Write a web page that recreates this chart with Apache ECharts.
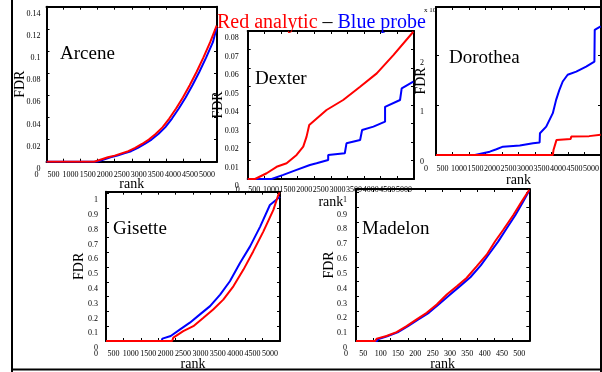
<!DOCTYPE html>
<html>
<head>
<meta charset="utf-8">
<script src="https://cdn.jsdelivr.net/npm/echarts@6/dist/echarts.min.js"></script>
<style>
  html, body { margin: 0; padding: 0; background: #fff; }
  #chart { width: 602px; height: 372px; }
</style>
</head>
<body>
<div id="chart"></div>
<script>
// values, [rank, FDR]
const arceneRed = [[0, 0], [1400, 0], [1600, 0.002], [1800, 0.004], [2000, 0.0055], [2200, 0.0075], [2400, 0.0095], [2600, 0.0125], [2800, 0.016], [3000, 0.02], [3200, 0.025], [3400, 0.031], [3600, 0.039], [3800, 0.048], [4000, 0.058], [4200, 0.069], [4400, 0.081], [4600, 0.094], [4800, 0.108], [4990, 0.123]];
const arceneBlue = [[0, 0], [1480, 0], [1680, 0.002], [1880, 0.004], [2080, 0.0055], [2280, 0.0075], [2480, 0.0095], [2680, 0.0125], [2880, 0.016], [3080, 0.02], [3280, 0.025], [3480, 0.031], [3680, 0.039], [3880, 0.048], [4080, 0.058], [4280, 0.069], [4480, 0.081], [4680, 0.094], [4880, 0.108], [4990, 0.121]];

const dexterRed = [[0, 0], [220, 0], [270, 0.0004], [570, 0.0031], [870, 0.0066], [1170, 0.0085], [1470, 0.013], [1670, 0.0175], [1770, 0.0229], [1850, 0.0292], [2370, 0.0373], [2870, 0.0427], [3380, 0.0499], [3880, 0.0571], [4380, 0.067], [4980, 0.0796]];
const dexterBlue = [[0, 0], [720, 0], [720, 0.0004], [1070, 0.0022], [1470, 0.0049], [1870, 0.0076], [2070, 0.0085], [2420, 0.0103], [2420, 0.013], [2920, 0.0139], [2970, 0.0193], [3380, 0.0211], [3440, 0.0265], [3780, 0.0283], [4130, 0.031], [4130, 0.039], [4580, 0.0427], [4630, 0.049], [4980, 0.0526]];

const dorotheaRed = [[0, 0], [3540, 0], [3560, 0.1], [3620, 0.12], [3650, 0.3], [4080, 0.32], [4100, 0.37], [4640, 0.38], [4660, 0.4], [4990, 0.41]];
const dorotheaBlue = [[0, 0], [1180, 0], [1180, 0.02], [1630, 0.067], [1830, 0.115], [2030, 0.168], [2540, 0.19], [2940, 0.236], [3140, 0.25], [3150, 0.438], [3340, 0.572], [3540, 0.842], [3640, 1.11], [3740, 1.313], [3840, 1.48], [3990, 1.616], [4250, 1.68], [4550, 1.78], [4800, 1.88], [4810, 2.52], [4990, 2.59]];

const gisetteRed = [[0, 0], [1900, 0], [1935, 0.023], [2220, 0.067], [2510, 0.1], [2800, 0.157], [3080, 0.213], [3370, 0.28], [3660, 0.37], [3950, 0.483], [4230, 0.606], [4520, 0.74], [4810, 0.887], [4950, 0.988], [4990, 1.005]];
const gisetteBlue = [[0, 0], [1600, 0], [1620, 0.016], [1860, 0.034], [2130, 0.079], [2410, 0.124], [2700, 0.18], [2990, 0.236], [3280, 0.314], [3560, 0.404], [3850, 0.528], [4140, 0.64], [4430, 0.774], [4710, 0.92], [5000, 0.976]];

const madelonRed = [[0, 0], [55, 0], [60, 0.016], [88, 0.034], [117, 0.06], [146, 0.1], [175, 0.146], [204, 0.19], [233, 0.246], [262, 0.313], [291, 0.369], [319, 0.425], [348, 0.503], [377, 0.582], [401, 0.671], [425, 0.75], [454, 0.85], [478, 0.94], [500, 1.02]];
const madelonBlue = [[0, 0], [60, 0], [65, 0.014], [90, 0.032], [120, 0.058], [150, 0.1], [180, 0.145], [210, 0.19], [240, 0.25], [270, 0.31], [300, 0.37], [330, 0.43], [360, 0.51], [385, 0.59], [410, 0.67], [435, 0.76], [460, 0.85], [480, 0.93], [500, 1.015]];

// tick labels
const rankTicks = [0, 500, 1000, 1500, 2000, 2500, 3000, 3500, 4000, 4500, 5000];
const madelonRankTicks = [0, 50, 100, 150, 200, 250, 300, 350, 400, 450, 500];
const arceneFdrTicks = [0, 0.02, 0.04, 0.06, 0.08, 0.1, 0.12, 0.14];
const dexterFdrTicks = [0, 0.01, 0.02, 0.03, 0.04, 0.05, 0.06, 0.07, 0.08];
const dorotheaFdrTicks = [0, 1, 2];
const unitFdrTicks = [0, 0.1, 0.2, 0.3, 0.4, 0.5, 0.6, 0.7, 0.8, 0.9, 1];

const FONT = 'Liberation Serif';

const panels = [
  { title: 'Arcene', red: arceneRed, blue: arceneBlue, xMax: 5000, yMax: 0.14, xTicks: rankTicks, yTicks: arceneFdrTicks,
    grid: { left: 46.5, top: 6.7, width: 170.5, height: 155 }, yLabelMargin: 6, xLabelMargin: 9, yNameGap: 19, xNameGap: 16, titlePos: [60, 54] },
  { title: 'Dexter', red: dexterRed, blue: dexterBlue, xMax: 5000, yMax: 0.08, xTicks: rankTicks, yTicks: dexterFdrTicks,
    grid: { left: 247.7, top: 31, width: 166.3, height: 148 }, yLabelMargin: 9, xLabelMargin: 7, yNameGap: 22, xNameGap: 16, titlePos: [255, 79] },
  { title: 'Dorothea', red: dorotheaRed, blue: dorotheaBlue, xMax: 5000, yMax: 2.98, xTicks: rankTicks, yTicks: dorotheaFdrTicks,
    grid: { left: 436, top: 7, width: 165.5, height: 148 }, yLabelMargin: 12, xLabelMargin: 10, yNameGap: 8, xNameGap: 18, titlePos: [449, 58] },
  { title: 'Gisette', red: gisetteRed, blue: gisetteBlue, xMax: 5000, yMax: 1.01, xTicks: rankTicks, yTicks: unitFdrTicks,
    grid: { left: 106, top: 191.7, width: 174, height: 150 }, yLabelMargin: 8, xLabelMargin: 9, yNameGap: 20, xNameGap: 16, titlePos: [113, 229] },
  { title: 'Madelon', red: madelonRed, blue: madelonBlue, xMax: 500, yMax: 1.025, xTicks: madelonRankTicks, yTicks: unitFdrTicks,
    grid: { left: 356, top: 189, width: 173.3, height: 152.7 }, yLabelMargin: 9, xLabelMargin: 9, yNameGap: 20, xNameGap: 16, titlePos: [362, 229] },
];

const chart = echarts.init(document.getElementById('chart'));

const axisLine = { show: true, onZero: false, lineStyle: { color: '#000', width: 2 } };
const tickStyle = { show: true, inside: true, length: 3, lineStyle: { color: '#000', width: 1 } };
const labelStyle = { fontFamily: FONT, fontSize: 8, color: '#000', formatter: (v) => String(v) };
const nameStyle = { fontFamily: FONT, fontSize: 14, color: '#000' };

const grid = [];
const xAxis = [];
const yAxis = [];
const series = [];
const graphic = [];

panels.forEach((p, i) => {
  grid.push({ ...p.grid });
  xAxis.push({
    type: 'value', gridIndex: i, position: 'bottom', min: 0, max: p.xMax,
    axisLine, splitLine: { show: false },
    axisTick: { ...tickStyle, customValues: p.xTicks },
    axisLabel: { ...labelStyle, customValues: p.xTicks, margin: p.xLabelMargin, padding: [0, 20, 0, 0] },
    name: 'rank', nameLocation: 'middle', nameGap: p.xNameGap, nameMoveOverlap: false, nameTextStyle: nameStyle,
  });
  xAxis.push({
    type: 'value', gridIndex: i, position: 'top', min: 0, max: p.xMax,
    axisLine, splitLine: { show: false },
    axisTick: { ...tickStyle, customValues: p.xTicks },
    axisLabel: { show: false },
  });
  yAxis.push({
    type: 'value', gridIndex: i, position: 'left', min: 0, max: p.yMax,
    axisLine, splitLine: { show: false },
    axisTick: { ...tickStyle, customValues: p.yTicks },
    axisLabel: { ...labelStyle, customValues: p.yTicks, margin: p.yLabelMargin, verticalAlign: 'top', lineHeight: 8, padding: [3, 0, 0, 0] },
    name: 'FDR', nameLocation: 'middle', nameGap: p.yNameGap, nameMoveOverlap: false, nameTextStyle: nameStyle,
  });
  yAxis.push({
    type: 'value', gridIndex: i, position: 'right', min: 0, max: p.yMax,
    axisLine, splitLine: { show: false },
    axisTick: { ...tickStyle, customValues: p.yTicks },
    axisLabel: { show: false },
  });
  series.push({
    name: p.title + ' probe', type: 'line', xAxisIndex: 2 * i, yAxisIndex: 2 * i,
    data: p.blue, showSymbol: false, lineStyle: { color: '#0000ff', width: 2 }, z: 3,
  });
  series.push({
    name: p.title + ' analytic', type: 'line', xAxisIndex: 2 * i, yAxisIndex: 2 * i,
    data: p.red, showSymbol: false, lineStyle: { color: '#ff0000', width: 2 }, z: 4,
  });
  graphic.push({
    type: 'text', x: p.titlePos[0], y: p.titlePos[1], z: 10,
    style: { text: p.title, fontFamily: FONT, fontSize: 19, fill: '#000', verticalAlign: 'middle' },
  });
});

// exponent mark of the Dorothea axis
graphic.push({
  type: 'text', x: 424, y: 10, z: 10,
  style: { text: 'x 10', fontFamily: FONT, fontSize: 7, fill: '#000', verticalAlign: 'middle' },
});

// legend line at the top
graphic.push({
  type: 'text', x: 217, y: 23, z: 12,
  style: {
    text: '{r|Red analytic} – {b|Blue probe}',
    fontFamily: FONT, fontSize: 20, fill: '#000', verticalAlign: 'middle',
    rich: {
      r: { fontFamily: FONT, fontSize: 20, fill: '#ff0000', color: '#ff0000' },
      b: { fontFamily: FONT, fontSize: 20, fill: '#0000ff', color: '#0000ff' },
    },
  },
});

// outer frame of the figure
const frame = { stroke: '#000', lineWidth: 2 };
graphic.push({ type: 'line', shape: { x1: 12, y1: 0, x2: 12, y2: 372 }, style: frame, z: 1 });
graphic.push({ type: 'line', shape: { x1: 12, y1: 369.5, x2: 602, y2: 369.5 }, style: frame, z: 1 });
graphic.push({ type: 'line', shape: { x1: 601, y1: 0, x2: 601, y2: 372 }, style: frame, z: 1 });

chart.setOption({
  animation: false,
  backgroundColor: '#fff',
  grid,
  xAxis,
  yAxis,
  series,
  graphic,
});
</script>
</body>
</html>
